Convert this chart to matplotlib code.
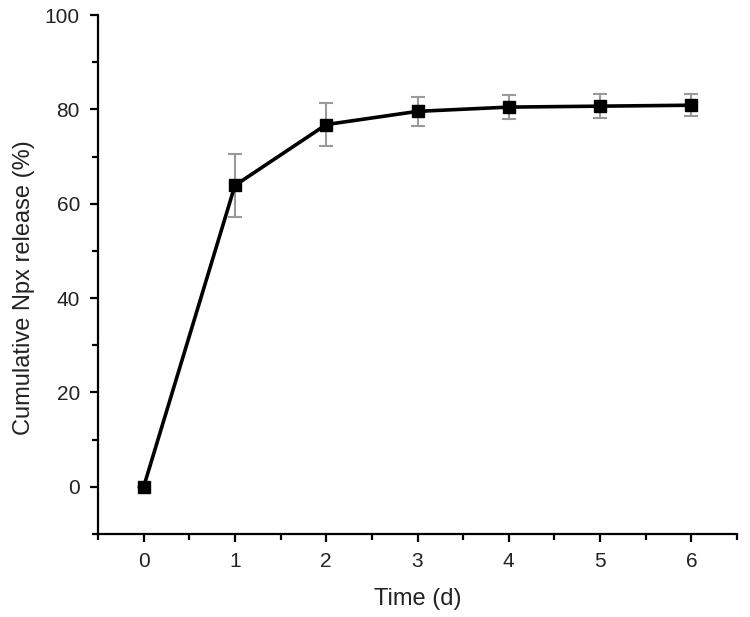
import matplotlib.pyplot as plt
import numpy as np
from matplotlib.ticker import MultipleLocator

plt.rcParams['font.family'] = ['Liberation Sans', 'DejaVu Sans']

time_d = np.array([0, 1, 2, 3, 4, 5, 6])
release = np.array([0, 63.9, 76.8, 79.6, 80.5, 80.7, 80.9])
release_err = np.array([0, 6.6, 4.5, 3.0, 2.6, 2.5, 2.3])

fig = plt.figure(figsize=(7.5, 6.17), dpi=100)
ax = fig.add_axes([0.1307, 0.1345, 0.852, 0.841])

ax.errorbar(time_d, release, yerr=release_err, fmt='none', ecolor='#9a9a9a',
            elinewidth=1.5, capsize=5, capthick=1.5, zorder=2)
ax.plot(time_d, release, color='black', linewidth=2.6, marker='s',
        markersize=9, zorder=3)

ax.set_xlim(-0.5, 6.5)
ax.set_ylim(-10, 100)
ax.xaxis.set_major_locator(MultipleLocator(1))
ax.xaxis.set_minor_locator(MultipleLocator(0.5))
ax.yaxis.set_major_locator(MultipleLocator(20))
ax.yaxis.set_minor_locator(MultipleLocator(10))
ax.set_xticks(range(0, 7))
ax.set_yticks(range(0, 101, 20))

ax.spines['top'].set_visible(False)
ax.spines['right'].set_visible(False)
for s in ['left', 'bottom']:
    ax.spines[s].set_linewidth(1.6)
ax.tick_params(which='major', direction='out', length=6, width=1.6,
               labelsize=15, pad=7, labelcolor='#222222')
ax.tick_params(which='minor', direction='out', length=4, width=1.6)

ax.set_xlabel('Time (d)', fontsize=17, labelpad=12, color='#222222')
ax.set_ylabel('Cumulative Npx release (%)', fontsize=17, color='#222222')
ax.yaxis.set_label_coords(-0.098, 0.474)

fig.savefig('out.png', dpi=100)
